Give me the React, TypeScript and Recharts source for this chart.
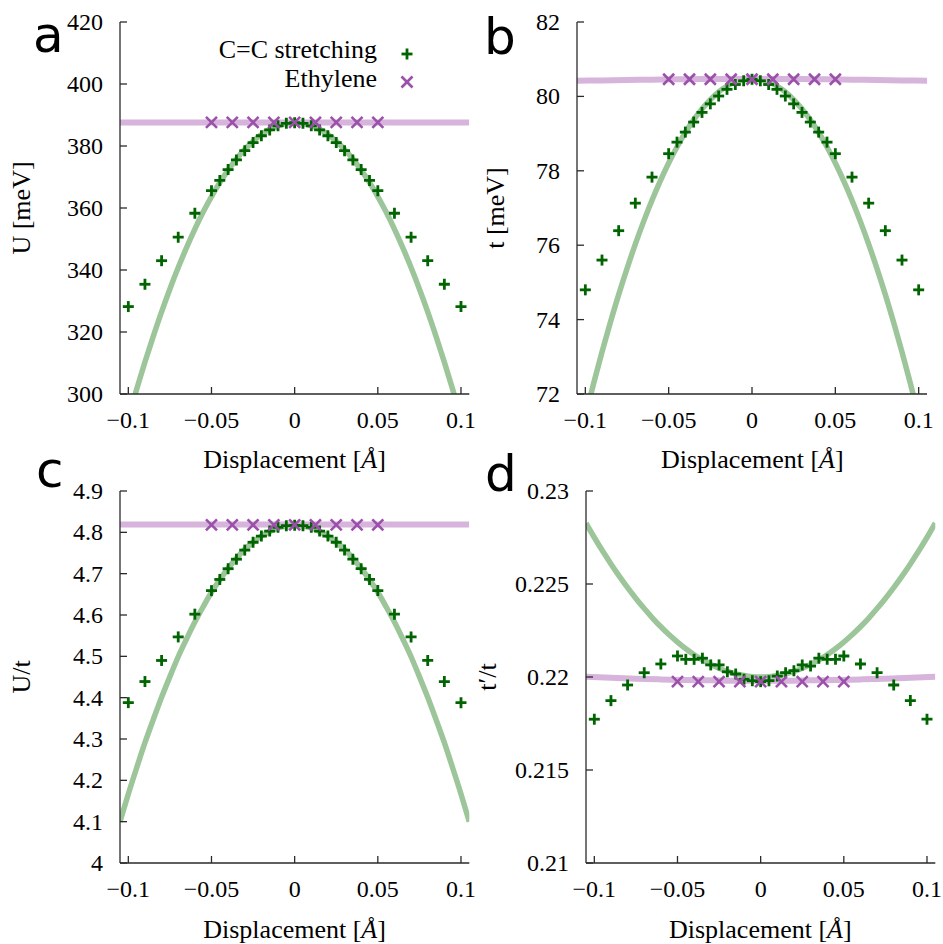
import React from 'react';
import { ComposedChart, Line, Scatter, XAxis, YAxis } from 'recharts';

// ---------- data ----------
const stretchX = [-0.1, -0.09, -0.08, -0.07, -0.06, -0.05, -0.045, -0.04, -0.035, -0.03, -0.025, -0.02, -0.015, -0.01, -0.005, 0, 0.005, 0.01, 0.015, 0.02, 0.025, 0.03, 0.035, 0.04, 0.045, 0.05, 0.06, 0.07, 0.08, 0.09, 0.1];
const stretchU = [328.2, 335.4, 343.0, 350.6, 358.3, 365.6, 368.9, 372.4, 375.5, 378.5, 381.1, 383.3, 385.2, 386.5, 387.3, 387.5, 387.3, 386.5, 385.2, 383.3, 381.1, 378.5, 375.5, 372.4, 368.9, 365.6, 358.3, 350.6, 343.0, 335.4, 328.2];
const stretchT = [74.80, 75.60, 76.39, 77.13, 77.83, 78.46, 78.77, 79.04, 79.31, 79.57, 79.80, 80.01, 80.19, 80.32, 80.42, 80.46, 80.42, 80.32, 80.19, 80.01, 79.80, 79.57, 79.31, 79.04, 78.77, 78.46, 77.83, 77.13, 76.39, 75.60, 74.80];
const stretchUt = [4.388, 4.439, 4.490, 4.547, 4.602, 4.659, 4.686, 4.712, 4.735, 4.757, 4.776, 4.791, 4.803, 4.812, 4.816, 4.817, 4.816, 4.812, 4.803, 4.791, 4.776, 4.757, 4.735, 4.712, 4.686, 4.659, 4.602, 4.547, 4.490, 4.439, 4.388];
const stretchTpt = [0.21773, 0.21873, 0.21957, 0.22023, 0.22070, 0.22113, 0.22095, 0.22095, 0.22101, 0.22065, 0.22065, 0.22028, 0.22016, 0.21988, 0.21980, 0.21975, 0.21980, 0.22005, 0.22023, 0.22034, 0.22065, 0.22059, 0.22101, 0.22095, 0.22095, 0.22113, 0.22070, 0.22023, 0.21957, 0.21873, 0.21773];

const ethyleneX = [-0.05, -0.0375, -0.025, -0.0125, 0, 0.0125, 0.025, 0.0375, 0.05];
const ethyleneU = [387.6, 387.6, 387.6, 387.6, 387.6, 387.6, 387.6, 387.6, 387.6];
const ethyleneT = [80.46, 80.46, 80.46, 80.46, 80.46, 80.46, 80.46, 80.46, 80.46];
const ethyleneUt = [4.818, 4.818, 4.818, 4.818, 4.818, 4.818, 4.818, 4.818, 4.818];
const ethyleneTpt = [0.21975, 0.21975, 0.21975, 0.21975, 0.21975, 0.21975, 0.21975, 0.21975, 0.21975];

const fitX = [-0.105, -0.1, -0.095, -0.09, -0.085, -0.08, -0.075, -0.07, -0.065, -0.06, -0.055, -0.05, -0.045, -0.04, -0.035, -0.03, -0.025, -0.02, -0.015, -0.01, -0.005, 0, 0.005, 0.01, 0.015, 0.02, 0.025, 0.03, 0.035, 0.04, 0.045, 0.05, 0.055, 0.06, 0.065, 0.07, 0.075, 0.08, 0.085, 0.09, 0.095, 0.1, 0.105];
const stretchFitU = [282.4, 292.2, 301.5, 310.3, 318.6, 326.5, 333.9, 340.8, 347.2, 353.2, 358.7, 363.7, 368.2, 372.2, 375.8, 378.9, 381.5, 383.7, 385.4, 386.5, 387.3, 387.5, 387.3, 386.5, 385.4, 383.7, 381.5, 378.9, 375.8, 372.2, 368.2, 363.7, 358.7, 353.2, 347.2, 340.8, 333.9, 326.5, 318.6, 310.3, 301.5, 292.2, 282.4];
const stretchFitT = [70.47, 71.40, 72.29, 73.13, 73.92, 74.67, 75.37, 76.03, 76.64, 77.21, 77.73, 78.21, 78.64, 79.03, 79.37, 79.66, 79.91, 80.12, 80.28, 80.39, 80.46, 80.48, 80.46, 80.39, 80.28, 80.12, 79.91, 79.66, 79.37, 79.03, 78.64, 78.21, 77.73, 77.21, 76.64, 76.03, 75.37, 74.67, 73.92, 73.13, 72.29, 71.40, 70.47];
const stretchFitUt = [4.100, 4.167, 4.230, 4.291, 4.347, 4.401, 4.451, 4.499, 4.542, 4.583, 4.620, 4.655, 4.685, 4.713, 4.737, 4.759, 4.776, 4.791, 4.802, 4.811, 4.815, 4.817, 4.815, 4.811, 4.802, 4.791, 4.776, 4.759, 4.737, 4.713, 4.685, 4.655, 4.620, 4.583, 4.542, 4.499, 4.451, 4.401, 4.347, 4.291, 4.230, 4.167, 4.100];
const stretchFitTpt = [0.22827, 0.22750, 0.22677, 0.22608, 0.22542, 0.22480, 0.22422, 0.22368, 0.22317, 0.22270, 0.22227, 0.22188, 0.22152, 0.22120, 0.22092, 0.22068, 0.22047, 0.22030, 0.22017, 0.22008, 0.22002, 0.22000, 0.22002, 0.22008, 0.22017, 0.22030, 0.22047, 0.22068, 0.22092, 0.22120, 0.22152, 0.22188, 0.22227, 0.22270, 0.22317, 0.22368, 0.22422, 0.22480, 0.22542, 0.22608, 0.22677, 0.22750, 0.22827];

const ethFitX = [-0.105, -0.09, -0.075, -0.06, -0.045, -0.03, -0.015, 0, 0.015, 0.03, 0.045, 0.06, 0.075, 0.09, 0.105];
const ethFitU = [387.6, 387.6, 387.6, 387.6, 387.6, 387.6, 387.6, 387.6, 387.6, 387.6, 387.6, 387.6, 387.6, 387.6, 387.6];
const ethFitT = [80.42, 80.43, 80.44, 80.45, 80.46, 80.465, 80.47, 80.47, 80.47, 80.465, 80.46, 80.45, 80.44, 80.43, 80.42];
const ethFitUt = [4.819, 4.819, 4.819, 4.819, 4.819, 4.819, 4.819, 4.819, 4.819, 4.819, 4.819, 4.819, 4.819, 4.819, 4.819];
const ethFitTpt = [0.22002, 0.21996, 0.21991, 0.21987, 0.21984, 0.21982, 0.2198, 0.2198, 0.2198, 0.21982, 0.21984, 0.21987, 0.21991, 0.21996, 0.22002];

const xTicks = [-0.1, -0.05, 0, 0.05, 0.1];
const uTicks = [300, 320, 340, 360, 380, 400, 420];
const tTicks = [72, 74, 76, 78, 80, 82];
const utTicks = [4, 4.1, 4.2, 4.3, 4.4, 4.5, 4.6, 4.7, 4.8, 4.9];
const tptTicks = [0.21, 0.215, 0.22, 0.225, 0.23];

const X_DOMAIN: [number, number] = [-0.105, 0.105];

// ---------- styles ----------
const GREEN = '#006400';
const GREEN_LINE = '#9cc59a';
const PURPLE = '#9b50aa';
const PURPLE_LINE = '#d6b4db';
const FRAME = '#2a2a2a';
const SERIF = '"Liberation Serif", "Times New Roman", serif';

const zip = (xs: number[], ys: number[]) => xs.map((x, i) => ({ x, y: ys[i] }));
const fmt = (v: number) => (v < 0 ? '\u2212' + String(Math.abs(v)) : String(v));

const BottomTick = (p: any) => (
  <text x={p.x} y={p.y + 17} textAnchor="middle" fontFamily={SERIF} fontSize={24} fill="#000">
    {fmt(p.payload.value)}
  </text>
);
const LeftTick = (p: any) => (
  <text x={p.x} y={p.y + 8} textAnchor="end" fontFamily={SERIF} fontSize={24} fill="#000">
    {fmt(p.payload.value)}
  </text>
);

const Plus = (p: any) => {
  const { cx, cy } = p;
  if (cx == null || cy == null) return null;
  const s = 5.5;
  return (
    <g stroke={GREEN} strokeWidth={2.8}>
      <line x1={cx - s} y1={cy} x2={cx + s} y2={cy} />
      <line x1={cx} y1={cy - s} x2={cx} y2={cy + s} />
    </g>
  );
};

const Cross = (p: any) => {
  const { cx, cy } = p;
  if (cx == null || cy == null) return null;
  const s = 5.5;
  return (
    <g stroke={PURPLE} strokeWidth={2.6}>
      <line x1={cx - s} y1={cy - s} x2={cx + s} y2={cy + s} />
      <line x1={cx - s} y1={cy + s} x2={cx + s} y2={cy - s} />
    </g>
  );
};

type Frame = { L: number; R: number; T: number; B: number };

function Panel(props: {
  frame: Frame;
  domain: [number, number];
  yTicks: number[];
  fit: { x: number; y: number }[];
  flat: { x: number; y: number }[];
  pts: { x: number; y: number }[];
  marks: { x: number; y: number }[];
}) {
  const { frame, domain, yTicks, fit, flat, pts, marks } = props;
  const yw = 120;
  const padTop = 22;
  const xh = 40;
  const pw = frame.R - frame.L;
  const ph = frame.B - frame.T;
  const w = Math.ceil(pw + yw + 6);
  const h = Math.ceil(ph + padTop + 80);
  const margin = { top: padTop, left: 0, right: w - yw - pw, bottom: h - padTop - ph - xh };
  const line = { stroke: FRAME, strokeWidth: 1.3 };
  return (
    <div style={{ position: 'absolute', left: frame.L - yw, top: frame.T - padTop }}>
      <ComposedChart width={w} height={h} margin={margin}>
        <XAxis xAxisId="b" dataKey="x" type="number" domain={X_DOMAIN} ticks={xTicks} interval={0}
          allowDataOverflow tickSize={-7} tickMargin={24} height={xh} tick={BottomTick}
          axisLine={line} tickLine={line} />
        <XAxis xAxisId="t" orientation="top" dataKey="x" type="number" domain={X_DOMAIN} ticks={xTicks}
          interval={0} allowDataOverflow tickSize={-7} height={0} tick={false} axisLine={line} tickLine={line} />
        <YAxis yAxisId="l" type="number" domain={domain} ticks={yTicks} interval={0} allowDataOverflow
          width={yw} tickSize={-7} tickMargin={24} tick={LeftTick}
          axisLine={line} tickLine={line} />
        <YAxis yAxisId="r" orientation="right" type="number" domain={domain} ticks={yTicks} interval={0}
          allowDataOverflow width={0} tickSize={-7} tick={false} axisLine={line} tickLine={line} />
        <Line xAxisId="b" yAxisId="l" data={fit} dataKey="y" type="monotone" stroke={GREEN_LINE}
          strokeWidth={5.5} dot={false} activeDot={false} isAnimationActive={false} />
        <Line xAxisId="t" yAxisId="r" data={flat} dataKey="y" type="monotone" stroke={PURPLE_LINE}
          strokeWidth={6} dot={false} activeDot={false} isAnimationActive={false} />
        <Scatter xAxisId="b" yAxisId="l" data={pts} dataKey="y" shape={(p: any) => <Plus {...p} />}
          isAnimationActive={false} />
        <Scatter xAxisId="b" yAxisId="l" data={marks} dataKey="y" shape={(p: any) => <Cross {...p} />}
          isAnimationActive={false} />
      </ComposedChart>
    </div>
  );
}

const XTitle = ({ x, y }: { x: number; y: number }) => (
  <text x={x} y={y} textAnchor="middle" fontFamily={SERIF} fontSize={26} fill="#000">
    Displacement [<tspan fontStyle="italic">Å</tspan>]
  </text>
);

const YTitle = ({ x, y, children }: { x: number; y: number; children: React.ReactNode }) => (
  <text transform={`translate(${x},${y}) rotate(-90)`} textAnchor="middle" fontFamily={SERIF} fontSize={26} fill="#000">
    {children}
  </text>
);

const LETTER = { fontFamily: '"DejaVu Sans", sans-serif', fontSize: 50, fill: '#000' };

export default function App() {
  const fA: Frame = { L: 120, R: 469.3, T: 22, B: 394 };
  const fB: Frame = { L: 577.3, R: 927.3, T: 22, B: 394 };
  const fC: Frame = { L: 120, R: 469.3, T: 491, B: 863 };
  const fD: Frame = { L: 585.7, R: 935, T: 491, B: 863 };
  return (
    <div style={{ position: 'absolute', left: 0, top: 0, width: 943, height: 944, background: '#fff', overflow: 'hidden' }}>
      <Panel frame={fA} domain={[300, 420]} yTicks={uTicks} fit={zip(fitX, stretchFitU)} flat={zip(ethFitX, ethFitU)}
        pts={zip(stretchX, stretchU)} marks={zip(ethyleneX, ethyleneU)} />
      <Panel frame={fB} domain={[72, 82]} yTicks={tTicks} fit={zip(fitX, stretchFitT)} flat={zip(ethFitX, ethFitT)}
        pts={zip(stretchX, stretchT)} marks={zip(ethyleneX, ethyleneT)} />
      <Panel frame={fC} domain={[4, 4.9]} yTicks={utTicks} fit={zip(fitX, stretchFitUt)} flat={zip(ethFitX, ethFitUt)}
        pts={zip(stretchX, stretchUt)} marks={zip(ethyleneX, ethyleneUt)} />
      <Panel frame={fD} domain={[0.21, 0.23]} yTicks={tptTicks} fit={zip(fitX, stretchFitTpt)} flat={zip(ethFitX, ethFitTpt)}
        pts={zip(stretchX, stretchTpt)} marks={zip(ethyleneX, ethyleneTpt)} />
      <svg width={943} height={944} style={{ position: 'absolute', left: 0, top: 0, pointerEvents: 'none' }}>
        <text x={33} y={52} {...LETTER}>a</text>
        <text x={484} y={54} {...LETTER}>b</text>
        <text x={36} y={487} {...LETTER}>c</text>
        <text x={485} y={491} {...LETTER}>d</text>

        <YTitle x={30} y={208}>U [meV]</YTitle>
        <YTitle x={504} y={208}>t [meV]</YTitle>
        <YTitle x={30} y={677}>U/t</YTitle>
        <YTitle x={496} y={677}>t′/t</YTitle>

        <XTitle x={294.6} y={468} />
        <XTitle x={752.3} y={468} />
        <XTitle x={294.6} y={938} />
        <XTitle x={760.3} y={938} />

        <text x={377} y={58} textAnchor="end" fontFamily={SERIF} fontSize={26} fill="#000">C=C stretching</text>
        <text x={377} y={87} textAnchor="end" fontFamily={SERIF} fontSize={26} fill="#000">Ethylene</text>
        <Plus cx={407} cy={54} />
        <Cross cx={407} cy={82} />
      </svg>
    </div>
  );
}
